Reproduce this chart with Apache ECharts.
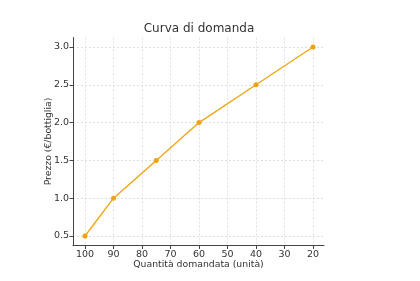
<!DOCTYPE html>
<html><head><meta charset="utf-8">
<script src="https://cdn.jsdelivr.net/npm/echarts@6/dist/echarts.min.js"></script>
<style>html,body{margin:0;padding:0;background:#fff}#c{width:420px;height:281px}</style>
</head><body><div id="c"></div>
<script>
const quantities = [100, 90, 75, 60, 40, 20];
const prices = [0.5, 1.0, 1.5, 2.0, 2.5, 3.0];
const titleText = 'Curva di domanda';
const xName = 'Quantità domandata (unità)';
const yName = 'Prezzo (€/bottiglia)';

const F = 'DejaVu Sans';
const txt = '#333';
const grid = '#d9d9d9';
// frame: x 73..324, y 37.5..245.5
const frame = {left: 73, right: 96, top: 37.5, bottom: 35.5};
const inner = {left: 85, right: 107, top: 47, bottom: 45};

const chart = echarts.init(document.getElementById('c'), null, {renderer: 'canvas'});
chart.setOption({
  animation: false,
  graphic: [{type: 'text', x: 199, y: 29,
    style: {text: titleText, align: 'center', verticalAlign: 'middle',
      font: '12px "DejaVu Sans"', fill: '#333'}}],
  grid: [
    Object.assign({}, frame),
    {left: inner.left, right: inner.right, top: frame.top, bottom: frame.bottom},
    {left: frame.left, right: frame.right, top: inner.top, bottom: inner.bottom},
    Object.assign({}, inner)
  ],
  xAxis: [
    {gridIndex: 0, type: 'value', min: 0, max: 1, axisLine: {show: true, lineStyle: {color: '#444', width: 1}},
      axisTick: {show: false}, axisLabel: {show: false}, splitLine: {show: false},
      name: xName, nameLocation: 'middle', nameGap: 15,
      nameTextStyle: {fontFamily: F, fontSize: 9.3, color: txt}},
    {gridIndex: 1, type: 'value', min: 20, max: 100, interval: 10, inverse: true,
      axisLine: {show: false}, axisTick: {show: true, length: 3.5, lineStyle: {color: '#444'}},
      axisLabel: {fontFamily: F, fontSize: 9.5, color: txt, margin: 4},
      splitLine: {show: true, lineStyle: {color: grid, type: [2, 2], width: 0.8}}},
    {gridIndex: 2, type: 'value', min: 0, max: 1, show: false},
    {gridIndex: 3, type: 'value', min: 20, max: 100, inverse: true, show: false}
  ],
  yAxis: [
    {gridIndex: 0, type: 'value', min: 0, max: 1, axisLine: {show: true, lineStyle: {color: '#444', width: 1}},
      axisTick: {show: false}, axisLabel: {show: false}, splitLine: {show: false},
      name: yName, nameLocation: 'middle', nameGap: 20,
      nameTextStyle: {fontFamily: F, fontSize: 9.3, color: txt}},
    {gridIndex: 1, type: 'value', min: 0, max: 1, show: false},
    {gridIndex: 2, type: 'value', min: 0.5, max: 3.0, interval: 0.5,
      axisLine: {show: false}, axisTick: {show: true, length: 3.5, lineStyle: {color: '#444'}},
      axisLabel: {fontFamily: F, fontSize: 9.5, color: txt, margin: 4, formatter: v => v.toFixed(1)},
      splitLine: {show: true, lineStyle: {color: grid, type: [2, 2], width: 0.8}}},
    {gridIndex: 3, type: 'value', min: 0.5, max: 3.0, show: false}
  ],
  series: [{
    type: 'line', xAxisIndex: 3, yAxisIndex: 3,
    data: quantities.map((q, i) => [q, prices[i]]),
    symbol: 'circle', symbolSize: 5,
    itemStyle: {color: '#f0a30f'},
    lineStyle: {color: '#f0a30f', width: 1.3}
  }]
});
</script></body></html>
